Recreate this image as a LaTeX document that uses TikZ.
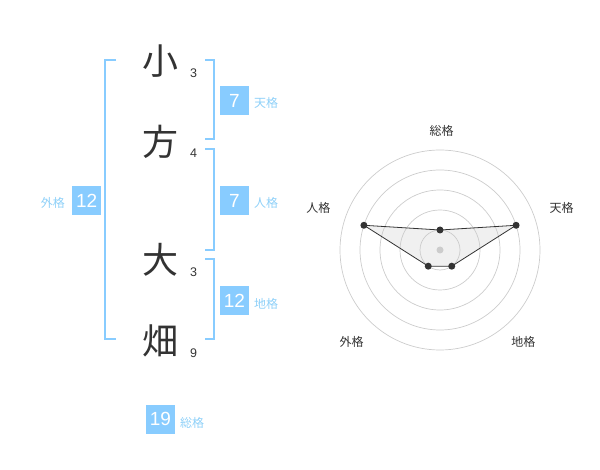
\documentclass[tikz,border=0pt]{standalone}
\usepackage{fontspec}
\setmainfont{Liberation Sans}
\newfontfamily\jp{Noto Sans CJK JP}
\definecolor{kblue}{HTML}{88CCFF}
\definecolor{klab}{HTML}{8ED0F8}
\definecolor{kdark}{HTML}{333333}
\definecolor{kring}{HTML}{CCCCCC}
\definecolor{kfill}{HTML}{F0F0F0}
\tikzset{
  kanji/.style={font=\jp\fontsize{36}{36}\selectfont, text=kdark, inner sep=0pt},
  strokes/.style={font=\fontsize{12.5}{12.5}\selectfont, text=kdark, inner sep=0pt},
  numbox/.style={fill=kblue, text=white, minimum width=29pt, minimum height=29pt, inner sep=0pt, font=\fontsize{19}{19}\selectfont},
  kaku/.style={font=\jp\fontsize{12}{12}\selectfont, text=klab, inner sep=0pt},
  brk/.style={draw=kblue, line width=2pt},
  ring/.style={draw=kring, line width=0.7pt},
  axlab/.style={font=\jp\fontsize{12}{12}\selectfont, text=kdark, inner sep=0pt},
  dot/.style={circle, fill=kdark, inner sep=0pt, minimum size=7pt},
  cdot/.style={circle, fill=kring, inner sep=0pt, minimum size=7pt},
}
\begin{document}
\begin{tikzpicture}[x=1pt,y=-1pt]
\useasboundingbox (0,0) rectangle (600,470);
% characters
\node[kanji] (c1) at (160,61) {小};
\node[kanji] (c2) at (160,142) {方};
\node[kanji] (c3) at (160,260) {大};
\node[kanji] (c4) at (160,341) {畑};
\node[strokes] (s1) at (193.5,73) {3};
\node[strokes] (s2) at (193.5,153) {4};
\node[strokes] (s3) at (193.5,272.5) {3};
\node[strokes] (s4) at (193.5,353) {9};
% brackets
\draw[brk] (116,60) -- (105,60) -- (105,339.5) -- (116,339.5);
\draw[brk] (205,60) -- (214,60) -- (214,139.5) -- (205,139.5);
\draw[brk] (205,149.5) -- (214,149.5) -- (214,250) -- (205,250);
\draw[brk] (205,259.5) -- (214,259.5) -- (214,339.5) -- (205,339.5);
% boxes
\node[numbox] (ten) at (234.5,100.5) {7};
\node[kaku, anchor=west] (tenl) at (254,103) {天格};
\node[numbox] (jin) at (234.5,200.5) {7};
\node[kaku, anchor=west] (jinl) at (254,203) {人格};
\node[numbox] (chi) at (234.5,300.5) {12};
\node[kaku, anchor=west] (chil) at (254,303.5) {地格};
\node[numbox] (gai) at (86.7,200.5) {12};
\node[kaku, anchor=east] (gail) at (65,203) {外格};
\node[numbox] (sou) at (160.5,419) {19};
\node[kaku, anchor=west] (soul) at (180,422.5) {総格};
% radar
\begin{scope}[shift={(440,250)}]
  \coordinate (o) at (0,0);
  \coordinate (pS) at (-90:20);
  \coordinate (pT) at (-18:80);
  \coordinate (pC) at (54:20);
  \coordinate (pG) at (126:20);
  \coordinate (pJ) at (-162:80);
  \fill[kfill] (pS) -- (pT) -- (pC) -- (pG) -- (pJ) -- cycle;
  \foreach \r in {20,40,60,80,100} \draw[ring] (o) circle[radius=\r];
  \node[cdot] (oc) at (o) {};
  \draw[kdark, line width=0.8pt] (pS) -- (pT) -- (pC) -- (pG) -- (pJ) -- cycle;
  \foreach \p in {pS,pT,pC,pG,pJ} \node[dot] at (\p) {};
\end{scope}
\node[axlab] (lS) at (441.7,130.5) {総格};
\node[axlab] (lT) at (561.7,208.3) {天格};
\node[axlab] (lC) at (523.3,341.7) {地格};
\node[axlab] (lG) at (351.7,341.7) {外格};
\node[axlab] (lJ) at (318.3,208.3) {人格};
\end{tikzpicture}
\end{document}
